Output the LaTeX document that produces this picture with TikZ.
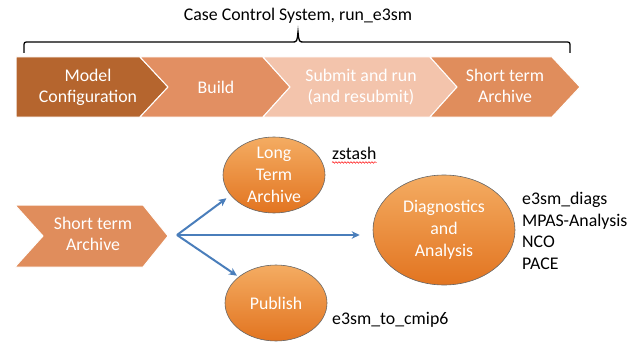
\documentclass[tikz,border=0pt]{standalone}
\usepackage{fontspec}
\setmainfont{Carlito}
\usetikzlibrary{arrows.meta,shapes.geometric,decorations.pathmorphing}
\definecolor{confbrown}{RGB}{181,101,46}
\definecolor{buildorange}{RGB}{226,143,98}
\definecolor{submitpeach}{RGB}{243,196,172}
\definecolor{archorange}{RGB}{224,141,92}
\definecolor{blobtop}{RGB}{244,172,98}
\definecolor{blobbottom}{RGB}{226,116,32}
\definecolor{arrowblue}{RGB}{74,126,187}
\tikzset{
  every node/.style={font=\fontsize{17.8}{21}\selectfont},
  chev/.style={draw=white, line width=1pt, line join=miter},
  chevtext/.style={text=white, align=center},
  blob/.style={ellipse, draw=black!60, line width=0.6pt, top color=blobtop, bottom color=blobbottom},
  blobtext/.style={text=white, align=center, font=\fontsize{17.8}{22}\selectfont},
  toolnote/.style={anchor=west, inner sep=0pt, align=left, font=\fontsize{17.8}{21.7}\selectfont},
  arr/.style={draw=arrowblue, line width=2pt, -{Stealth[length=8pt,width=7.5pt]}}
}
\begin{document}
\begin{tikzpicture}[x=1pt,y=-1pt]
  \useasboundingbox (0,0) rectangle (639,345);
  % case control system and its bracket
  \node[anchor=base] (cime) at (298,21) {Case Control System, run\_e3sm};
  \draw[line width=1.3pt] (24,53) -- (24,47) .. controls (24,42) .. (29,42) -- (292,42) .. controls (297,42) .. (298,32) .. controls (299,42) .. (304,42) -- (565,42) .. controls (570,42) .. (570,47) -- (570,53);
  % the four steps
  \fill[chev, fill=confbrown] (16,57) -- (140,57) -- (168,87) -- (140,117) -- (16,117) -- cycle;
  \fill[chev, fill=buildorange] (140,57) -- (263,57) -- (290,87) -- (263,117) -- (140,117) -- (168,87) -- cycle;
  \fill[chev, fill=submitpeach] (263,57) -- (430,57) -- (457,87) -- (430,117) -- (263,117) -- (290,87) -- cycle;
  \fill[chev, fill=archorange] (430,57) -- (552,57) -- (580,87) -- (552,117) -- (430,117) -- (457,87) -- cycle;
  \node[chevtext] (conf) at (88,87) {Model\\Configuration};
  \node[chevtext] (build) at (216,87) {Build};
  \node[chevtext] (submit) at (361,87) {Submit and run\\(and resubmit)};
  \node[chevtext] (sta) at (505,86) {Short term\\Archive};
  % after the run
  \fill[chev, fill=archorange] (15,205) -- (143,205) -- (168,236) -- (143,267) -- (15,267) -- (43,236) -- cycle;
  \node[chevtext] (sta2) at (93,234) {Short term\\Archive};
  \coordinate (fork) at (177,235);
  \node[blob, minimum width=102pt, minimum height=76pt] (lta) at (274,175) {};
  \node[blobtext] (ltatext) at (lta) {Long\\Term\\Archive};
  \node[blob, minimum width=102pt, minimum height=76pt] (pub) at (276,303) {};
  \node[blobtext] (pubtext) at (pub) {Publish};
  \node[blob, minimum width=142pt, minimum height=110pt] (diag) at (444,230) {};
  \node[blobtext] (diagtext) at (diag) {Diagnostics\\and\\Analysis};
  \draw[arr, shorten >=5pt] (fork) -- (lta.205);
  \draw[arr, shorten >=13pt] (fork) -- (fork -| diag.west);
  \draw[arr, shorten >=2pt] (fork) -- (pub.145);
  % tools
  \node[toolnote] (zstash) at (332,153) {zstash};
  \draw[red, line width=0.5pt, decorate, decoration={snake, amplitude=0.8pt, segment length=3pt}] ([yshift=-3pt]zstash.south west) -- ([yshift=-3pt]zstash.south east);
  \node[toolnote] (cmip) at (332,320) {e3sm\_to\_cmip6};
  \node[toolnote] (tools) at (522,231) {e3sm\_diags\\MPAS-Analysis\\NCO\\PACE};
\end{tikzpicture}
\end{document}
